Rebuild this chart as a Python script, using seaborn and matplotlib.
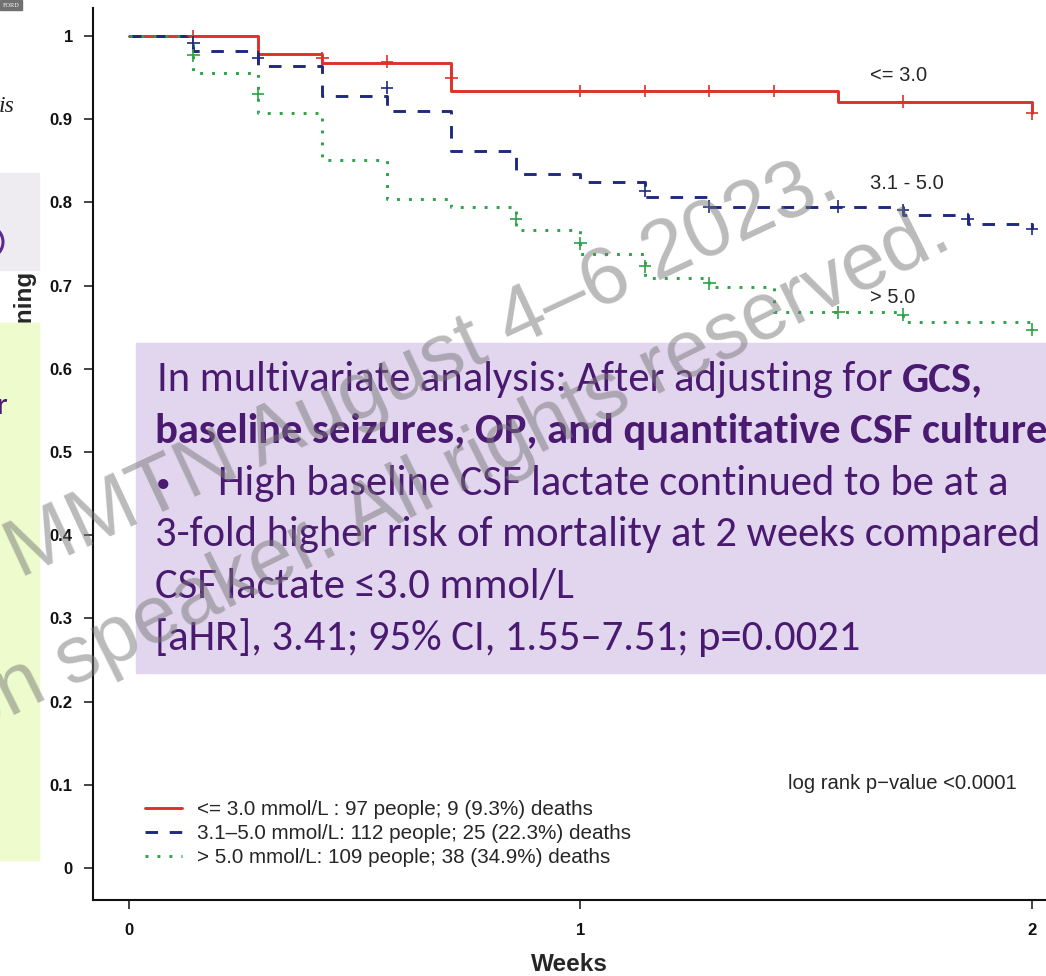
import matplotlib
matplotlib.use("Agg")
import matplotlib.pyplot as plt
from matplotlib import font_manager
from matplotlib.patches import Rectangle, Arc
from matplotlib.lines import Line2D
import seaborn as sns
import pandas as pd

# Kaplan-Meier curves, time in days (plotted in weeks)
groups = ["<= 3.0", "3.1 - 5.0", "> 5.0"]
legend_labels = [
    "<= 3.0 mmol/L : 97 people; 9 (9.3%) deaths",
    "3.1\u20135.0 mmol/L: 112 people; 25 (22.3%) deaths",
    "> 5.0 mmol/L: 109 people; 38 (34.9%) deaths",
]

low_days = [0, 2, 3, 5, 11, 14]
low_surv = [1.0, 0.978, 0.968, 0.934, 0.921, 0.907]
mid_days = [0, 1, 2, 3, 4, 5, 6, 7, 8, 9, 12, 13, 14]
mid_surv = [1.0, 0.982, 0.964, 0.928, 0.910, 0.862, 0.834, 0.824, 0.806, 0.795, 0.785, 0.774, 0.768]
high_days = [0, 1, 2, 3, 4, 5, 6, 7, 8, 9, 10, 12, 14]
high_surv = [1.0, 0.955, 0.907, 0.851, 0.804, 0.794, 0.767, 0.738, 0.709, 0.698, 0.668, 0.656, 0.647]

# censored observations
low_cens_days = [1, 3, 4, 5, 7, 8, 9, 10, 12, 14]
low_cens_surv = [1.0, 0.973, 0.969, 0.950, 0.934, 0.934, 0.934, 0.934, 0.921, 0.907]
mid_cens_days = [1, 2, 4, 8, 9, 11, 12, 13, 14]
mid_cens_surv = [0.992, 0.974, 0.938, 0.814, 0.795, 0.795, 0.791, 0.780, 0.768]
high_cens_days = [1, 2, 6, 7, 8, 9, 11, 12, 14]
high_cens_surv = [0.977, 0.930, 0.780, 0.751, 0.723, 0.703, 0.668, 0.665, 0.647]

yticks = [0, 0.1, 0.2, 0.3, 0.4, 0.5, 0.6, 0.7, 0.8, 0.9, 1]
ytick_labels = ["0", "0.1", "0.2", "0.3", "0.4", "0.5", "0.6", "0.7", "0.8", "0.9", "1"]
xticks = [0, 1, 2]

slide_lines = [
    "In multivariate analysis: After adjusting for ",
    "baseline seizures, OP, and quantitative CSF culture,",
    "High baseline CSF lactate continued to be at a",
    "3-fold higher risk of mortality at 2 weeks compared",
    "CSF lactate \u22643.0 mmol/L",
    "[aHR], 3.41; 95% CI, 1.55\u20137.51; p=0.0021",
]

colors = ["#DD3129", "#1F2A7F", "#2BA347"]
palette = dict(zip(groups, colors))
dash_map = {groups[0]: "", groups[1]: (4.3, 4), groups[2]: (1, 3.1)}
legend_styles = ["-", (0, (4.3, 4)), (0, (1, 3.1))]

rows = []
for g, d, s in zip(groups, [low_days, mid_days, high_days], [low_surv, mid_surv, high_surv]):
    for di, si in zip(d, s):
        rows.append({"group": g, "weeks": di / 7, "surv": si})
curves = pd.DataFrame(rows)

rows = []
for g, d, s in zip(groups, [low_cens_days, mid_cens_days, high_cens_days],
                   [low_cens_surv, mid_cens_surv, high_cens_surv]):
    for di, si in zip(d, s):
        rows.append({"group": g, "weeks": di / 7, "surv": si})
cens = pd.DataFrame(rows)

sns.set_theme(style="ticks")
plt.rcParams["font.family"] = ["Liberation Sans", "DejaVu Sans"]

names = {f.name for f in font_manager.fontManager.ttflist}
slide_font = ["Carlito", "DejaVu Sans"] if "Carlito" in names else ["Lato", "DejaVu Sans"]

W, H = 1046, 976
fig = plt.figure(figsize=(W / 100, H / 100), dpi=100)
ax = fig.add_axes([93 / W, 1 - 900 / H, (W - 93) / W, 892 / H])

sns.lineplot(data=curves, x="weeks", y="surv", hue="group", style="group",
             palette=palette, dashes=dash_map, estimator=None, sort=False,
             drawstyle="steps-post", linewidth=2.1, legend=False, ax=ax)
sns.scatterplot(data=cens, x="weeks", y="surv", hue="group", palette=palette,
                marker="+", s=85, linewidth=1.2, legend=False, ax=ax, zorder=3)

ax.set_xlim(-0.0797, 2.031)
ax.set_ylim(-0.0385, 1.0337)
ax.set_yticks(yticks, labels=ytick_labels, fontweight="bold", fontsize=12)
ax.set_xticks(xticks, labels=[str(x) for x in xticks], fontweight="bold", fontsize=12)
ax.tick_params(axis="y", length=6.5, width=1.1, pad=8, colors="#111111")
ax.tick_params(axis="x", length=6.5, width=1.1, pad=10, colors="#111111")
sns.despine(ax=ax)
for side in ["left", "bottom"]:
    ax.spines[side].set_linewidth(1.5)
    ax.spines[side].set_color("#111111")

ax.set_xlabel("Weeks", fontsize=17.5, fontweight="bold", labelpad=11)
ax.set_ylabel("Proportion remaining", fontsize=17.5, fontweight="bold",
              ha="right", va="center")
ax.yaxis.set_label_coords((26 - 93) / 953, (900 - 272) / 892)

for g, ypos in zip(groups, [0.953, 0.823, 0.686]):
    ax.text(1.641, ypos, g, fontsize=14.5, ha="left", va="center")
ax.text(1.46, 0.102, "log rank p\u2212value <0.0001", fontsize=14.6, ha="left", va="center")

handles = [Line2D([], [], color=c, lw=2.1, linestyle=ls) for c, ls in zip(colors, legend_styles)]
ax.legend(handles, legend_labels, loc="upper left", bbox_to_anchor=(145 / W, 1 - 800 / H),
          bbox_transform=fig.transFigure, frameon=False, borderpad=0, borderaxespad=0,
          handlelength=1.8, handletextpad=0.72, labelspacing=0.24, fontsize=14.9)

# slide overlay in pixel coordinates
ov = fig.add_axes([0, 0, 1, 1], zorder=5)
ov.set_xlim(0, W)
ov.set_ylim(H, 0)
ov.axis("off")

purple = "#4A1A70"
fs = 30.7
ov.add_patch(Rectangle((0, 0), 22, 10, color="#707070"))
ov.text(11, 5.5, "FORD", color="white", fontsize=4.5, family="Liberation Serif",
        ha="center", va="center")
ov.text(-1, 112, "is", fontsize=17, family="Liberation Serif", style="italic",
        color="#222222", va="baseline")
ov.add_patch(Rectangle((0, 173), 39, 97, color="#EEECF1"))
ov.add_patch(Arc((-13, 242), 32, 32, theta1=-75, theta2=75, color="#5B2A91", lw=2.2))
ov.add_patch(Rectangle((0, 323), 39, 537, color="#EEFBCC"))
ov.text(-3, 414, "r", fontsize=22, color=purple, family=slide_font, va="baseline")

ov.add_patch(Rectangle((136, 343), 920, 330, color="#E2D6EF"))
base = [391 + 51.8 * i for i in range(6)]
renderer = fig.canvas.get_renderer()
t1 = ov.text(157, base[0], slide_lines[0].rstrip(), fontsize=fs, color=purple,
             family=slide_font, va="baseline")
bb = t1.get_window_extent(renderer=renderer)
x_end = ov.transData.inverted().transform((bb.x1, bb.y0))[0]
ov.text(x_end + 9, base[0], "GCS,", fontsize=fs, color=purple, family=slide_font,
        fontweight="bold", va="baseline")
ov.text(155, base[1], slide_lines[1], fontsize=fs, color=purple, family=slide_font,
        fontweight="bold", va="baseline")
ov.text(156, base[2] - 3, "\u2022", fontsize=21, color=purple, family=slide_font, va="baseline")
ov.text(218, base[2], slide_lines[2], fontsize=fs, color=purple, family=slide_font, va="baseline")
for i in range(3, 6):
    ov.text(155, base[i], slide_lines[i], fontsize=fs, color=purple, family=slide_font,
            va="baseline")

# watermark
ov.text(842, 195, "MMTN August 4\u20136 2023.", fontsize=59, color="#777777", alpha=0.5,
        rotation=25, rotation_mode="anchor", ha="right", va="baseline",
        family="Liberation Sans", zorder=20)
ov.text(955, 246, "Property of the presentation speaker. All rights reserved.", fontsize=58,
        color="#777777", alpha=0.5, rotation=26.5, rotation_mode="anchor", ha="right",
        va="baseline", family="Liberation Sans", zorder=20)

plt.savefig("out.png", dpi=100)
